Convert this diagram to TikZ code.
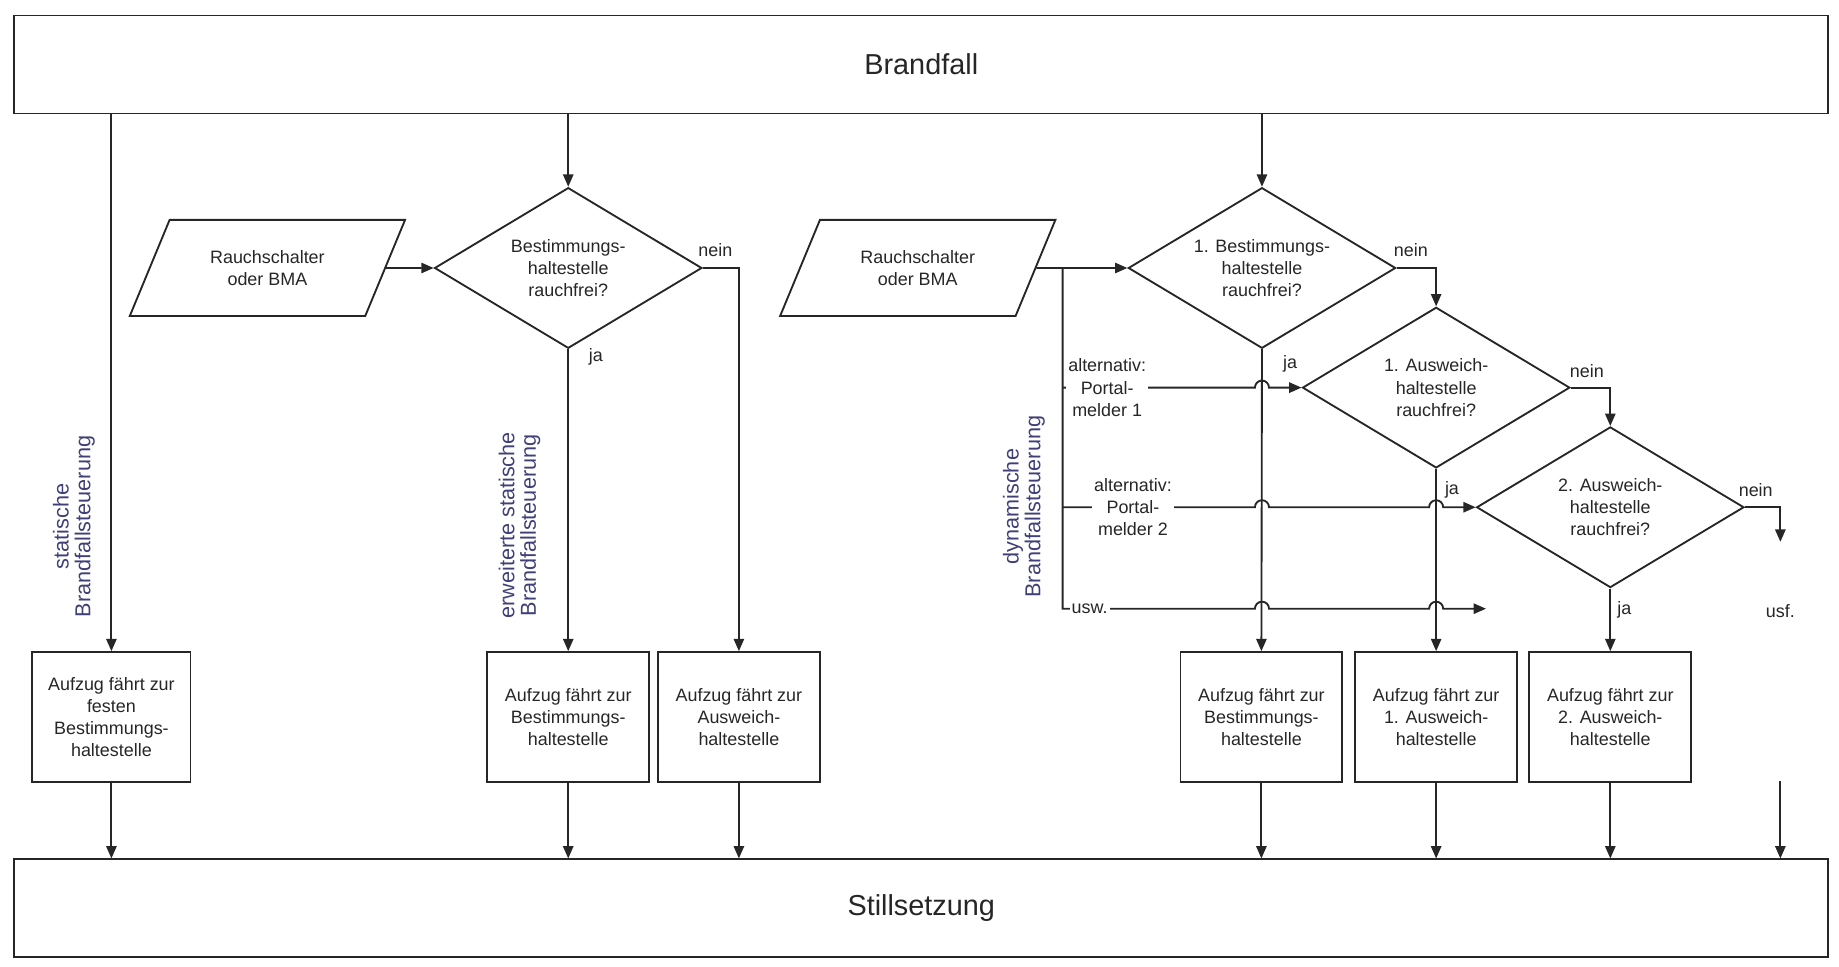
\documentclass[tikz,border=0pt]{standalone}
\usepackage{fontspec}
\setmainfont{Liberation Sans}
\usetikzlibrary{shapes.geometric, arrows.meta}
\definecolor{modeblue}{RGB}{64,64,120}

\begin{document}
\begin{tikzpicture}[x=0.02cm, y=-0.02cm, line width=0.9pt, color=black!85,
  >={Triangle[length=6pt,width=5pt]},
  txt/.style={font=\fontsize{8.7}{10.8}\selectfont, align=center},
  bigbox/.style={draw, minimum width=30.94cm, minimum height=1.67cm, font=\fontsize{14}{16}\selectfont},
  stopbox/.style={draw, txt, minimum width=2.76cm, minimum height=2.22cm, inner sep=1pt},
  query/.style={draw, txt, shape=diamond, aspect=1.66, minimum width=4.56cm, minimum height=2.74cm, inner sep=0pt},
  input/.style={draw, txt, shape=trapezium, trapezium left angle=62, trapezium right angle=118, trapezium stretches=true, minimum width=4.7cm, minimum height=1.64cm},
  side/.style={txt, fill=white, inner sep=1pt},
  mode/.style={rotate=90, align=center, text=modeblue, font=\fontsize{10.5}{10.5}\selectfont}]
\useasboundingbox (0,0) rectangle (1568,824);

\node[bigbox] (bf) at (785.5,55) {Brandfall};
\node[bigbox] (st) at (785.5,774.5) {Stillsetzung};

% statische Brandfallsteuerung
\node[stopbox, minimum width=2.7cm] (box1) at (95,611.5) {Aufzug fährt zur\\festen\\Bestimmungs-\\haltestelle};
\node[mode] (m1) at (63,449) {statische\\Brandfallsteuerung};
\draw[->] (bf.south -| box1.north) -- (box1.north);

% erweiterte statische Brandfallsteuerung
\node[input] (ps1) at (228,228.5) {Rauchschalter\\oder BMA};
\node[query] (d1) at (484.5,228.5) {Bestimmungs-\\haltestelle\\rauchfrei?};
\node[stopbox] (box2) at (484.5,611.5) {Aufzug fährt zur\\Bestimmungs-\\haltestelle};
\node[stopbox] (box3) at (630,611.5) {Aufzug fährt zur\\Ausweich-\\haltestelle};
\node[mode] (m2) at (443,448) {erweiterte statische\\Brandfallsteuerung};
\draw[->] (bf.south -| d1.north) -- (d1.north);
\draw[->] (ps1.east) -- (d1.west);
\draw[->] (d1.east) -| (box3.north);
\draw[->] (d1.south) -- (box2.north);
\node[txt] (n1) at (610,213) {nein};
\node[txt] (j1) at (508,304) {ja};

% dynamische Brandfallsteuerung
\node[input] (ps2) at (782.5,228.5) {Rauchschalter\\oder BMA};
\node[query] (d2) at (1076,228.5) {1. Bestimmungs-\\haltestelle\\rauchfrei?};
\node[query] (d3) at (1224.5,330.5) {1. Ausweich-\\haltestelle\\rauchfrei?};
\node[query] (d4) at (1373,432.5) {2. Ausweich-\\haltestelle\\rauchfrei?};
\node[stopbox] (box4) at (1075.5,611.5) {Aufzug fährt zur\\Bestimmungs-\\haltestelle};
\node[stopbox] (box5) at (1224.5,611.5) {Aufzug fährt zur\\1. Ausweich-\\haltestelle};
\node[stopbox] (box6) at (1373,611.5) {Aufzug fährt zur\\2. Ausweich-\\haltestelle};
\node[mode] (m3) at (873,432) {dynamische\\Brandfallsteuerung};
\coordinate (br) at (906,228.5);
\coordinate (uswend) at (1267,519);
\coordinate (usfend) at (1518,462);
\coordinate (usfbot) at (1518,666);
\draw[->] (bf.south -| d2.north) -- (d2.north);
\draw[->] (ps2.east) -- (d2.west);
\draw[->] (d2.east) -| (d3.north);
\draw[->] (d3.east) -| (d4.north);
\draw[->] (d4.east) -| (usfend);
\draw[->] (d2.south) -- (box4.north);
\draw[->] (d3.south) -- (box5.north);
\draw[->] (d4.south) -- (box6.north);
\draw[->] (br |- d3.west) -- (1070,330.5) arc[start angle=180, end angle=0, radius=0.12cm] -- (d3.west);
\draw[->] (br |- d4.west) -- (1070,432.5) arc[start angle=180, end angle=0, radius=0.12cm]
  -- (1218.5,432.5) arc[start angle=180, end angle=0, radius=0.12cm] -- (d4.west);
\draw[->] (br) |- (1070,519) arc[start angle=180, end angle=0, radius=0.12cm]
  -- (1218.5,519) arc[start angle=180, end angle=0, radius=0.12cm] -- (uswend);
\node[side] (alt1) at (944,330.5) {alternativ:\\Portal-\\melder 1};
\node[side] (alt2) at (966,432.5) {alternativ:\\Portal-\\melder 2};
\node[side] (usw) at (929,519) {usw.};
\node[txt] (usf) at (1518,521) {usf.};
\node[txt] (n2) at (1203,213) {nein};
\node[txt] (j2) at (1100,310) {ja};
\node[txt] (n3) at (1353,316) {nein};
\node[txt] (j3) at (1238,418) {ja};
\node[txt] (n4) at (1497,418) {nein};
\node[txt] (j4) at (1385,520) {ja};

% in die Stillsetzung
\foreach \b in {box1,box2,box3,box4,box5,box6}
  \draw[->] (\b.south) -- (st.north -| \b.south);
\draw[->] (usfbot) -- (st.north -| usfbot);
\end{tikzpicture}
\end{document}
